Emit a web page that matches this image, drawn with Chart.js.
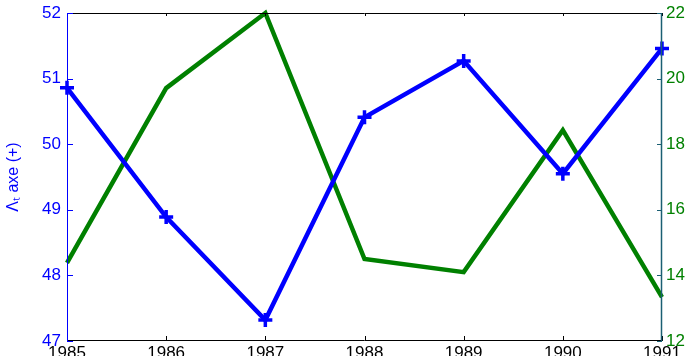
<!DOCTYPE html>
<html>
<head>
<meta charset="utf-8">
<script src="https://cdn.jsdelivr.net/npm/chart.js@4/dist/chart.umd.min.js"></script>
<style>
html,body{margin:0;padding:0;overflow:hidden;background:#fff;width:693px;height:356px;}
canvas{display:block;}
</style>
</head>
<body>
<canvas id="c" width="693" height="372" style="width:693px;height:372px"></canvas>
<script>
const years = ['1985','1986','1987','1988','1989','1990','1991'];
const lambdaValues = [50.86, 48.89, 47.32, 50.41, 51.27, 49.55, 51.46];
const rightValues = [14.38, 19.71, 22.0, 14.5, 14.1, 18.43, 13.34];
const leftTicks = [47, 48, 49, 50, 51, 52];
const rightTicks = [12, 14, 16, 18, 20, 22];

const FONT = "'Liberation Sans', Arial, sans-serif";
const BLUE = '#0000ff';
const GREEN = '#008000';
const TEAL = '#1b5f73';

const frame = {
  id: 'frame',
  afterDatasetsDraw(chart) {
    const {ctx, chartArea: a, scales} = chart;
    ctx.save();
    ctx.lineWidth = 1;
    ctx.strokeStyle = '#000';
    scales.x.ticks.forEach((t, i) => {
      const px = Math.round(scales.x.getPixelForTick(i)) + 0.5;
      ctx.beginPath(); ctx.moveTo(px, a.bottom); ctx.lineTo(px, a.bottom - 5); ctx.stroke();
      ctx.beginPath(); ctx.moveTo(px, a.top); ctx.lineTo(px, a.top + 3); ctx.stroke();
    });
    ctx.beginPath(); ctx.moveTo(a.left, a.top + 0.5); ctx.lineTo(a.right, a.top + 0.5); ctx.stroke();
    ctx.beginPath(); ctx.moveTo(a.left, a.bottom - 0.5); ctx.lineTo(a.right, a.bottom - 0.5); ctx.stroke();
    ctx.strokeStyle = BLUE;
    ctx.beginPath(); ctx.moveTo(a.left + 0.5, a.top); ctx.lineTo(a.left + 0.5, a.bottom); ctx.stroke();
    scales.y.ticks.forEach((t) => {
      const py = Math.round(scales.y.getPixelForValue(t.value)) + 0.5;
      ctx.beginPath(); ctx.moveTo(a.left, py); ctx.lineTo(a.left + 6, py); ctx.stroke();
    });
    ctx.strokeStyle = TEAL;
    ctx.lineWidth = 1.5;
    ctx.beginPath(); ctx.moveTo(a.right - 0.5, a.top); ctx.lineTo(a.right - 0.5, a.bottom); ctx.stroke();
    ctx.lineWidth = 1;
    scales.y1.ticks.forEach((t) => {
      const py = Math.round(scales.y1.getPixelForValue(t.value)) + 0.5;
      ctx.beginPath(); ctx.moveTo(a.right, py); ctx.lineTo(a.right - 5, py); ctx.stroke();
    });
    ctx.restore();
  }
};

function fixV(w) {
  return function (s) { s.width = w; s.paddingTop = 0; s.paddingBottom = 0; };
}

new Chart(document.getElementById('c'), {
  type: 'line',
  data: {
    labels: years,
    datasets: [
      {
        data: lambdaValues, yAxisID: 'y',
        borderColor: BLUE, backgroundColor: BLUE,
        borderWidth: 4.5, pointRadius: 0,
        tension: 0, clip: false, order: 0
      },
      {
        data: lambdaValues, yAxisID: 'y',
        borderColor: 'rgba(0,0,0,0)', backgroundColor: BLUE, showLine: false,
        pointStyle: 'cross', pointRadius: 7, pointBorderColor: BLUE, pointBorderWidth: 3.5,
        clip: false, order: 0
      },
      {
        data: rightValues, yAxisID: 'y1',
        borderColor: GREEN, backgroundColor: GREEN,
        borderWidth: 4.5, pointRadius: 0, tension: 0, clip: false, order: 1
      }
    ]
  },
  options: {
    responsive: false,
    animation: false,
    events: [],
    layout: {padding: {top: 13, left: 0, right: 0, bottom: 0}},
    plugins: {legend: {display: false}, tooltip: {enabled: false}},
    scales: {
      x: {
        type: 'category',
        offset: false,
        grid: {display: false, drawTicks: false},
        border: {display: false},
        ticks: {color: '#000', font: {family: FONT, size: 17}, padding: 2, maxRotation: 0, autoSkip: false},
        afterFit(s) { s.height = 31; s.paddingLeft = 0; s.paddingRight = 0; }
      },
      y: {
        position: 'left', min: 47, max: 52,
        afterBuildTicks(s) { s.ticks = leftTicks.map(v => ({value: v})); },
        grid: {display: false, drawTicks: false},
        border: {display: false},
        ticks: {color: BLUE, font: {family: FONT, size: 17}, padding: 6},
        title: {display: true, text: 'Λₜ axe (+)', color: BLUE, font: {family: FONT, size: 16}, padding: {top: 4, bottom: 2}},
        afterFit: fixV(67)
      },
      y1: {
        position: 'right', min: 12, max: 22,
        afterBuildTicks(s) { s.ticks = rightTicks.map(v => ({value: v})); },
        grid: {display: false, drawTicks: false},
        border: {display: false},
        ticks: {color: GREEN, font: {family: FONT, size: 17}, padding: 4},
        afterFit: fixV(31)
      }
    }
  },
  plugins: [frame]
});
</script>
</body>
</html>
